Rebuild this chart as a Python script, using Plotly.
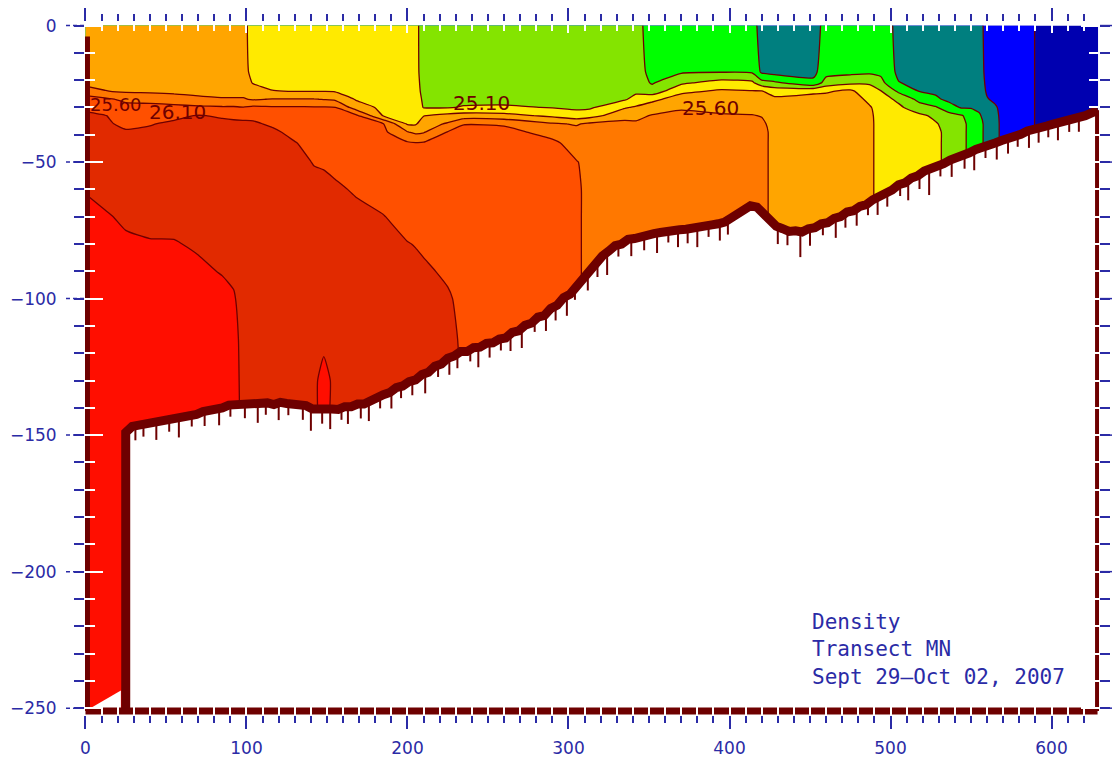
import numpy as np
import plotly.graph_objects as go

# ---------------- data ----------------
station_km = [0, 12, 25, 40, 55, 70, 85, 92, 98, 104, 116, 130, 142, 148, 155, 168, 185, 200,
              205, 210, 225, 235, 260, 290, 305, 313, 335, 342, 352, 370, 395, 414, 420, 428,
              452, 460, 475, 487, 494, 505, 518, 528, 536, 544, 550, 555, 560, 565, 571, 586,
              593, 610, 629]
depth_m = [0, -17, -21, -24, -27, -30, -33, -36, -39, -43, -50, -60, -70, -80, -90, -100,
           -115, -130, -145, -250]

# density (sigma-t) profile at each station, top to bottom, aligned with depth_m
density_profiles = [
    [25.48, 25.49, 25.52, 25.72, 25.95, 26.08, 26.12, 26.15, 26.18, 26.21, 26.25, 26.34, 26.40, 26.44, 26.46, 26.47, 26.48, 26.49, 26.50, 26.52],
    [25.48, 25.49, 25.51, 25.61, 25.90, 25.98, 26.11, 26.13, 26.16, 26.19, 26.23, 26.29, 26.37, 26.43, 26.46, 26.47, 26.48, 26.49, 26.50, 26.52],
    [25.48, 25.49, 25.50, 25.56, 25.80, 25.92, 26.00, 26.06, 26.12, 26.16, 26.21, 26.26, 26.32, 26.38, 26.43, 26.46, 26.48, 26.49, 26.50, 26.52],
    [25.48, 25.49, 25.50, 25.55, 25.78, 25.92, 26.02, 26.09, 26.13, 26.16, 26.20, 26.25, 26.31, 26.36, 26.42, 26.45, 26.47, 26.48, 26.49, 26.52],
    [25.48, 25.49, 25.50, 25.54, 25.72, 25.92, 26.06, 26.13, 26.16, 26.18, 26.21, 26.25, 26.30, 26.36, 26.40, 26.44, 26.47, 26.48, 26.49, 26.52],
    [25.48, 25.49, 25.50, 25.53, 25.65, 25.90, 26.11, 26.14, 26.16, 26.18, 26.20, 26.24, 26.28, 26.33, 26.38, 26.43, 26.46, 26.48, 26.49, 26.52],
    [25.48, 25.49, 25.50, 25.52, 25.62, 25.88, 26.08, 26.14, 26.16, 26.18, 26.20, 26.23, 26.27, 26.31, 26.34, 26.40, 26.44, 26.46, 26.47, 26.50],
    [25.48, 25.49, 25.50, 25.52, 25.62, 25.88, 26.07, 26.13, 26.16, 26.18, 26.20, 26.23, 26.26, 26.30, 26.33, 26.36, 26.38, 26.39, 26.40, 26.45],
    [25.40, 25.41, 25.45, 25.52, 25.62, 25.86, 26.06, 26.13, 26.16, 26.18, 26.20, 26.22, 26.25, 26.28, 26.30, 26.31, 26.32, 26.32, 26.32, 26.32],
    [25.28, 25.30, 25.34, 25.45, 25.58, 25.90, 26.05, 26.13, 26.16, 26.18, 26.20, 26.22, 26.24, 26.26, 26.27, 26.28, 26.29, 26.29, 26.29, 26.29],
    [25.22, 25.23, 25.27, 25.36, 25.61, 25.88, 25.98, 26.07, 26.14, 26.17, 26.19, 26.21, 26.23, 26.25, 26.26, 26.27, 26.28, 26.28, 26.28, 26.28],
    [25.22, 25.23, 25.27, 25.34, 25.61, 25.88, 25.94, 25.99, 26.04, 26.11, 26.16, 26.19, 26.21, 26.23, 26.25, 26.26, 26.27, 26.28, 26.28, 26.28],
    [25.22, 25.23, 25.27, 25.34, 25.61, 25.87, 25.92, 25.96, 25.99, 26.03, 26.09, 26.16, 26.19, 26.21, 26.23, 26.25, 26.28, 26.31, 26.32, 26.32],
    [25.22, 25.23, 25.27, 25.34, 25.59, 25.87, 25.92, 25.95, 25.98, 26.02, 26.08, 26.15, 26.19, 26.21, 26.23, 26.25, 26.30, 26.42, 26.40, 26.40],
    [25.22, 25.23, 25.27, 25.33, 25.56, 25.86, 25.91, 25.94, 25.97, 26.00, 26.05, 26.13, 26.18, 26.21, 26.23, 26.25, 26.27, 26.30, 26.30, 26.30],
    [25.22, 25.23, 25.25, 25.28, 25.33, 25.48, 25.90, 25.93, 25.95, 25.97, 26.00, 26.08, 26.15, 26.19, 26.22, 26.24, 26.26, 26.28, 26.28, 26.28],
    [25.22, 25.22, 25.23, 25.24, 25.26, 25.29, 25.33, 25.86, 25.90, 25.93, 25.95, 25.99, 26.11, 26.16, 26.20, 26.23, 26.25, 26.27, 26.27, 26.27],
    [25.22, 25.22, 25.23, 25.24, 25.25, 25.27, 25.29, 25.32, 25.61, 25.88, 25.93, 25.96, 26.00, 26.11, 26.18, 26.22, 26.24, 26.26, 26.26, 26.26],
    [25.15, 25.15, 25.16, 25.17, 25.19, 25.22, 25.26, 25.32, 25.55, 25.86, 25.93, 25.96, 26.00, 26.09, 26.16, 26.21, 26.24, 26.26, 26.26, 26.26],
    [25.02, 25.03, 25.04, 25.05, 25.07, 25.09, 25.34, 25.48, 25.58, 25.87, 25.93, 25.96, 25.99, 26.06, 26.14, 26.20, 26.23, 26.24, 26.24, 26.24],
    [24.98, 24.99, 25.00, 25.01, 25.03, 25.08, 25.42, 25.63, 25.86, 25.90, 25.93, 25.96, 25.99, 26.02, 26.06, 26.13, 26.18, 26.20, 26.20, 26.20],
    [24.98, 24.99, 25.00, 25.01, 25.03, 25.12, 25.46, 25.84, 25.92, 25.94, 25.96, 25.98, 25.99, 26.00, 26.02, 26.03, 26.05, 26.06, 26.06, 26.06],
    [24.98, 24.99, 25.00, 25.01, 25.03, 25.13, 25.43, 25.82, 25.93, 25.95, 25.96, 25.97, 25.98, 25.99, 26.00, 26.00, 26.00, 26.00, 26.00, 26.00],
    [24.98, 24.99, 25.00, 25.01, 25.03, 25.09, 25.30, 25.63, 25.76, 25.90, 25.95, 25.97, 25.98, 25.99, 26.00, 26.00, 26.00, 26.00, 26.00, 26.00],
    [24.98, 24.99, 25.00, 25.01, 25.03, 25.06, 25.20, 25.58, 25.67, 25.75, 25.86, 25.88, 25.88, 25.88, 25.88, 25.88, 25.88, 25.88, 25.88, 25.88],
    [24.98, 24.99, 25.00, 25.01, 25.03, 25.06, 25.25, 25.64, 25.72, 25.76, 25.79, 25.80, 25.80, 25.80, 25.80, 25.80, 25.80, 25.80, 25.80, 25.80],
    [24.98, 24.99, 25.00, 25.02, 25.07, 25.33, 25.52, 25.66, 25.70, 25.72, 25.72, 25.72, 25.72, 25.72, 25.72, 25.72, 25.72, 25.72, 25.72, 25.72],
    [24.90, 24.92, 24.96, 25.04, 25.20, 25.38, 25.53, 25.64, 25.70, 25.72, 25.72, 25.72, 25.72, 25.72, 25.72, 25.72, 25.72, 25.72, 25.72, 25.72],
    [24.78, 24.80, 24.83, 24.95, 25.30, 25.45, 25.62, 25.68, 25.71, 25.72, 25.72, 25.72, 25.72, 25.72, 25.72, 25.72, 25.72, 25.72, 25.72, 25.72],
    [24.72, 24.82, 25.06, 25.30, 25.45, 25.57, 25.66, 25.70, 25.72, 25.72, 25.72, 25.72, 25.72, 25.72, 25.72, 25.72, 25.72, 25.72, 25.72, 25.72],
    [24.72, 24.84, 25.20, 25.38, 25.47, 25.54, 25.62, 25.68, 25.72, 25.72, 25.72, 25.72, 25.72, 25.72, 25.72, 25.72, 25.72, 25.72, 25.72, 25.72],
    [24.66, 24.82, 25.15, 25.36, 25.46, 25.53, 25.61, 25.66, 25.68, 25.68, 25.68, 25.68, 25.68, 25.68, 25.68, 25.68, 25.68, 25.68, 25.68, 25.68],
    [24.54, 24.56, 24.95, 25.36, 25.45, 25.52, 25.59, 25.64, 25.66, 25.66, 25.66, 25.66, 25.66, 25.66, 25.66, 25.66, 25.66, 25.66, 25.66, 25.66],
    [24.48, 24.50, 24.90, 25.25, 25.40, 25.46, 25.50, 25.52, 25.54, 25.54, 25.54, 25.54, 25.54, 25.54, 25.54, 25.54, 25.54, 25.54, 25.54, 25.54],
    [24.52, 24.53, 24.66, 25.30, 25.44, 25.48, 25.50, 25.50, 25.50, 25.50, 25.50, 25.50, 25.50, 25.50, 25.50, 25.50, 25.50, 25.50, 25.50, 25.50],
    [24.66, 24.76, 24.96, 25.32, 25.44, 25.48, 25.50, 25.50, 25.50, 25.50, 25.50, 25.50, 25.50, 25.50, 25.50, 25.50, 25.50, 25.50, 25.50, 25.50],
    [24.72, 24.78, 25.05, 25.40, 25.46, 25.48, 25.48, 25.48, 25.48, 25.48, 25.48, 25.48, 25.48, 25.48, 25.48, 25.48, 25.48, 25.48, 25.48, 25.48],
    [24.74, 24.80, 25.08, 25.18, 25.30, 25.37, 25.38, 25.38, 25.38, 25.38, 25.38, 25.38, 25.38, 25.38, 25.38, 25.38, 25.38, 25.38, 25.38, 25.38],
    [24.76, 24.80, 24.92, 25.11, 25.20, 25.26, 25.29, 25.30, 25.30, 25.30, 25.30, 25.30, 25.30, 25.30, 25.30, 25.30, 25.30, 25.30, 25.30, 25.30],
    [24.52, 24.55, 24.61, 24.80, 25.05, 25.15, 25.20, 25.22, 25.22, 25.22, 25.22, 25.22, 25.22, 25.22, 25.22, 25.22, 25.22, 25.22, 25.22, 25.22],
    [24.48, 24.50, 24.54, 24.59, 24.78, 24.95, 25.15, 25.20, 25.22, 25.22, 25.22, 25.22, 25.22, 25.22, 25.22, 25.22, 25.22, 25.22, 25.22, 25.22],
    [24.48, 24.49, 24.52, 24.56, 24.64, 24.88, 25.05, 25.12, 25.14, 25.14, 25.14, 25.14, 25.14, 25.14, 25.14, 25.14, 25.14, 25.14, 25.14, 25.14],
    [24.48, 24.49, 24.50, 24.52, 24.55, 24.70, 24.95, 25.02, 25.05, 25.05, 25.05, 25.05, 25.05, 25.05, 25.05, 25.05, 25.05, 25.05, 25.05, 25.05],
    [24.48, 24.49, 24.50, 24.52, 24.55, 24.58, 24.87, 24.90, 24.90, 24.90, 24.90, 24.90, 24.90, 24.90, 24.90, 24.90, 24.90, 24.90, 24.90, 24.90],
    [24.48, 24.49, 24.50, 24.52, 24.55, 24.58, 24.76, 24.80, 24.80, 24.80, 24.80, 24.80, 24.80, 24.80, 24.80, 24.80, 24.80, 24.80, 24.80, 24.80],
    [24.40, 24.41, 24.42, 24.44, 24.48, 24.55, 24.63, 24.66, 24.66, 24.66, 24.66, 24.66, 24.66, 24.66, 24.66, 24.66, 24.66, 24.66, 24.66, 24.66],
    [24.30, 24.31, 24.32, 24.33, 24.36, 24.45, 24.50, 24.54, 24.54, 24.54, 24.54, 24.54, 24.54, 24.54, 24.54, 24.54, 24.54, 24.54, 24.54, 24.54],
    [24.26, 24.27, 24.28, 24.30, 24.32, 24.37, 24.39, 24.40, 24.40, 24.40, 24.40, 24.40, 24.40, 24.40, 24.40, 24.40, 24.40, 24.40, 24.40, 24.40],
    [24.24, 24.24, 24.25, 24.26, 24.27, 24.28, 24.28, 24.28, 24.28, 24.28, 24.28, 24.28, 24.28, 24.28, 24.28, 24.28, 24.28, 24.28, 24.28, 24.28],
    [24.16, 24.16, 24.16, 24.16, 24.16, 24.16, 24.16, 24.16, 24.16, 24.16, 24.16, 24.16, 24.16, 24.16, 24.16, 24.16, 24.16, 24.16, 24.16, 24.16],
    [24.04, 24.04, 24.04, 24.04, 24.04, 24.04, 24.04, 24.04, 24.04, 24.04, 24.04, 24.04, 24.04, 24.04, 24.04, 24.04, 24.04, 24.04, 24.04, 24.04],
    [24.00, 24.00, 24.00, 24.00, 24.00, 24.00, 24.00, 24.00, 24.00, 24.00, 24.00, 24.00, 24.00, 24.00, 24.00, 24.00, 24.00, 24.00, 24.00, 24.00],
    [23.98, 23.98, 23.98, 23.98, 23.98, 23.98, 23.98, 23.98, 23.98, 23.98, 23.98, 23.98, 23.98, 23.98, 23.98, 23.98, 23.98, 23.98, 23.98, 23.98],
]

level_start, level_end, level_step = 24.10, 26.35, 0.25
band_colors = ['#0000B0', '#0000FF', '#007F7F', '#00FF00', '#84E400', '#FFEA00',
               '#FFA500', '#FF7800', '#FF5000', '#E12A00', '#FF0E00']

# sea floor (centre of the dark bottom line) along the transect
bottom_km = [25, 25, 29, 33, 37, 41, 45, 49, 53, 57, 61, 65, 69, 73, 77, 81, 85, 89, 93, 97,
             101, 105, 109, 113, 117, 121, 125, 129, 133, 137, 141, 145, 149, 153, 157, 161,
             165, 169, 173, 177, 181, 185, 189, 193, 197, 201, 205, 209, 213, 217, 221, 225,
             229, 233, 237, 241, 245, 249, 253, 257, 261, 265, 269, 273, 277, 281, 285, 289,
             293, 297, 301, 305, 309, 313, 317, 321, 325, 329, 333, 337, 341, 345, 349, 353,
             357, 361, 365, 369, 373, 377, 381, 385, 389, 393, 397, 401, 405, 409, 413, 417,
             421, 425, 429, 433, 437, 441, 445, 449, 453, 457, 461, 465, 469, 473, 477, 481,
             485, 489, 493, 497, 501, 505, 509, 513, 517, 521, 525, 529, 533, 537, 541, 545,
             549, 553, 557, 561, 565, 569, 573, 577, 581, 585, 589, 593, 597, 601, 605, 609,
             613, 617, 621, 625, 629]
bottom_m = [-250, -149, -146.8, -146.4, -146.2, -145.6, -145.4, -144.6, -144.4, -143.6, -143.4,
            -142.6, -142.4, -141.4, -141.2, -140.2, -140.0, -139.0, -138.8, -138.4, -138.6,
            -138.0, -138.4, -138.2, -138.8, -138.0, -138.4, -138.4, -139.0, -139.2, -140.4,
            -140.2, -140.8, -140.4, -140.6, -139.6, -139.6, -138.6, -138.6, -137.2, -136.6,
            -135.2, -134.4, -132.6, -132.0, -130.4, -129.8, -127.8, -127.0, -124.8, -124.0,
            -121.8, -121.0, -119.4, -119.4, -118.0, -117.8, -116.4, -116.2, -114.8, -114.4,
            -112.4, -111.8, -109.8, -109.0, -106.8, -106.2, -103.6, -102.4, -99.6, -98.4,
            -95.4, -93.2, -89.9, -87.6, -84.4, -82.6, -80.6, -80.0, -78.3, -78.0, -77.2,
            -76.8, -76.2, -75.8, -75.2, -75.0, -74.8, -74.6, -74.0, -73.8, -73.2, -73.0,
            -72.6, -72.0, -70.5, -69.0, -67.0, -66.0, -66.5, -69.0, -71.5, -73.5, -74.4,
            -75.4, -75.2, -75.6, -74.4, -74.0, -72.6, -72.2, -70.6, -70.0, -68.3, -67.8,
            -66.2, -65.6, -63.8, -62.8, -61.3, -60.2, -58.3, -57.6, -55.8, -55.0, -53.3,
            -52.6, -51.3, -50.6, -49.3, -48.6, -47.3, -46.6, -45.4, -44.8, -43.6, -43.0,
            -42.1, -41.6, -40.4, -39.8, -38.6, -38.2, -37.4, -36.8, -36.1, -35.6, -34.9,
            -34.4, -33.6, -33.0, -32.0, -31.0]

# narrow echo spikes hanging below the bottom line: position and length
spike_km = [31, 36, 44, 52, 58, 66, 74, 83, 90, 99, 107, 112, 120, 126, 135, 140, 147, 152,
            159, 163, 171, 176, 183, 190, 196, 203, 211, 219, 226, 231, 239, 244, 251, 258,
            264, 271, 279, 286, 292, 299, 304, 312, 318, 324, 331, 339, 347, 355, 362, 368,
            374, 380, 387, 394, 399, 430, 436, 444, 450, 458, 466, 472, 479, 486, 492, 498,
            506, 511, 518, 524, 531, 538, 546, 552, 559, 566, 573, 579, 586, 592, 598, 604,
            611, 617]
spike_len = [4, 3, 5, 3, 6, 3, 4, 5, 3, 4, 6, 3, 5, 3, 4, 7, 4, 6, 3, 5, 4, 6, 3, 5, 3, 4, 6,
             3, 5, 4, 3, 6, 4, 3, 5, 6, 3, 5, 4, 6, 3, 5, 4, 7, 3, 5, 4, 6, 3, 5, 4, 6, 3, 5,
             4, 5, 4, 8, 5, 3, 6, 4, 5, 3, 5, 4, 3, 6, 4, 8, 3, 5, 4, 6, 3, 5, 4, 3, 5, 4, 3,
             5, 3, 4]

# small unsampled notch at the foot of the left wall
notch_km = [3, 22, 22]
notch_m = [-250, -243.5, -250]

label_text = ['25.60', '26.10', '25.10', '25.60']
label_km = [19, 57, 246, 388]
label_m = [-29.0, -31.8, -28.4, -30.2]
label_size = [18, 20, 20, 20]

x_ticks = [0, 100, 200, 300, 400, 500, 600]
y_ticks = [0, -50, -100, -150, -200, -250]
caption_lines = ['Density', 'Transect MN', 'Sept 29\u2013Oct 02, 2007']
caption_km = 450
caption_m = -228.5

# ---------------- styling ----------------
BLUE = '#2b2ba6'
DARK = '#6e0000'
X_RANGE = [-0.3, 629.5]
Y_RANGE = [-252.5, 1.3]
X_EDGE = 628.6
Y_FLOOR = -251.0
FONT = 'DejaVu Sans'

z = np.array(density_profiles).T[::-1]
y_up = depth_m[::-1]

n_bands = len(band_colors)
colorscale = [[k / (n_bands - 1), c] for k, c in enumerate(band_colors)]

fig = go.Figure()

fig.add_trace(go.Contour(
    x=station_km, y=y_up, z=z,
    autocontour=False,
    contours=dict(start=level_start, end=level_end, size=level_step,
                  coloring='fill', showlines=True),
    line=dict(color=DARK, width=1.3, smoothing=0.5),
    colorscale=colorscale, showscale=False, hoverinfo='skip'))

# white sea-floor mask below the bottom line
mask_x = bottom_km + [X_RANGE[1], X_RANGE[1], bottom_km[0]]
mask_y = bottom_m + [bottom_m[-1], Y_RANGE[0], Y_RANGE[0]]
fig.add_trace(go.Scatter(x=mask_x, y=mask_y, fill='toself', fillcolor='white',
                         line=dict(width=0), mode='lines', hoverinfo='skip'))
fig.add_trace(go.Scatter(x=notch_km, y=notch_m, fill='toself', fillcolor='white',
                         line=dict(width=0), mode='lines', hoverinfo='skip'))

# echo spikes below the bottom line
spike_base = np.interp(spike_km, bottom_km[1:], bottom_m[1:])
sx, sy = [], []
for k, b, ln in zip(spike_km, spike_base, spike_len):
    sx += [k, k, None]
    sy += [b, b - 1.3 - ln, None]
fig.add_trace(go.Scatter(x=sx, y=sy, mode='lines', line=dict(color=DARK, width=2),
                         hoverinfo='skip'))

# section outline: left edge, floor and right edge
fig.add_trace(go.Scatter(x=[0, 0], y=[-4, Y_FLOOR], mode='lines',
                         line=dict(color=DARK, width=9), hoverinfo='skip'))
fig.add_trace(go.Scatter(x=[0, X_EDGE], y=[Y_FLOOR, Y_FLOOR], mode='lines',
                         line=dict(color=DARK, width=7), hoverinfo='skip'))
fig.add_trace(go.Scatter(x=[X_EDGE, X_EDGE], y=[bottom_m[-1], Y_FLOOR], mode='lines',
                         line=dict(color=DARK, width=5), hoverinfo='skip'))
# bottom (bathymetry) line
fig.add_trace(go.Scatter(x=bottom_km, y=bottom_m, mode='lines',
                         line=dict(color=DARK, width=9), hoverinfo='skip'))

# dummy trace for the overlay (white inner tick) axes
fig.add_trace(go.Scatter(x=[None], y=[None], xaxis='x2', yaxis='y2', showlegend=False))

annotations = []
for t, xk, ym, fs in zip(label_text, label_km, label_m, label_size):
    annotations.append(dict(x=xk, y=ym, xref='x', yref='y', text=t, showarrow=False,
                            font=dict(family=FONT, size=fs, color=DARK)))
annotations.append(dict(x=caption_km, y=caption_m, xref='x', yref='y',
                        text='<br>'.join(caption_lines), showarrow=False,
                        xanchor='left', yanchor='middle', align='left',
                        font=dict(family='DejaVu Sans Mono', size=21, color=BLUE)))

shapes = []
for v in y_ticks:
    shapes.append(dict(type='line', xref='paper', yref='y', x0=-19 / 1014, x1=-1 / 1014,
                       y0=v, y1=v, line=dict(color=BLUE, width=1.5, dash='4px,3px')))
    shapes.append(dict(type='line', xref='paper', yref='y', x0=1 + 1 / 1014, x1=1 + 13 / 1014,
                       y0=v, y1=v, line=dict(color=BLUE, width=1.5)))

fig.update_layout(
    width=1114, height=763,
    margin=dict(l=85, r=15, t=22, b=48),
    paper_bgcolor='white', plot_bgcolor='white', showlegend=False,
    annotations=annotations, shapes=shapes,
    xaxis=dict(range=X_RANGE, tickmode='array', tickvals=x_ticks,
               ticktext=[str(v) for v in x_ticks], automargin=False,
               ticks='outside', ticklen=13, tickwidth=1.5, tickcolor=BLUE,
               mirror='ticks', showline=False, showgrid=False, zeroline=False,
               tickfont=dict(family=FONT, size=17, color=BLUE), ticklabelstandoff=5,
               minor=dict(tickmode='linear', tick0=0, dtick=10, ticks='outside', ticklen=7,
                          tickwidth=1.5, tickcolor=BLUE, showgrid=False)),
    yaxis=dict(range=Y_RANGE, tickmode='array', tickvals=y_ticks,
               ticktext=[str(v).replace('-', '\u2212') for v in y_ticks], automargin=False,
               ticks='outside', ticklen=0, tickwidth=1.5, tickcolor=BLUE,
               mirror='ticks', showline=False, showgrid=False, zeroline=False,
               tickfont=dict(family=FONT, size=17, color=BLUE), ticklabelstandoff=24,
               minor=dict(tickmode='linear', tick0=0, dtick=10, ticks='outside', ticklen=10,
                          tickwidth=1.5, tickcolor=BLUE, showgrid=False)),
    xaxis2=dict(overlaying='x', anchor='y2', range=X_RANGE, tickmode='array', tickvals=x_ticks,
                ticks='inside', ticklen=11, tickwidth=1.5, tickcolor='white', automargin=False,
                mirror='ticks', showline=False, showgrid=False, zeroline=False,
                showticklabels=False,
                minor=dict(tickmode='linear', tick0=0, dtick=10, ticks='inside', ticklen=9,
                           tickwidth=1.5, tickcolor='white', showgrid=False)),
    yaxis2=dict(overlaying='y', anchor='x2', range=Y_RANGE, tickmode='array', tickvals=y_ticks,
                ticks='inside', ticklen=18, tickwidth=1.5, tickcolor='white', automargin=False,
                mirror='ticks', showline=False, showgrid=False, zeroline=False,
                showticklabels=False,
                minor=dict(tickmode='linear', tick0=0, dtick=10, ticks='inside', ticklen=10,
                           tickwidth=1.5, tickcolor='white', showgrid=False)),
)

fig.write_html('out.html')
